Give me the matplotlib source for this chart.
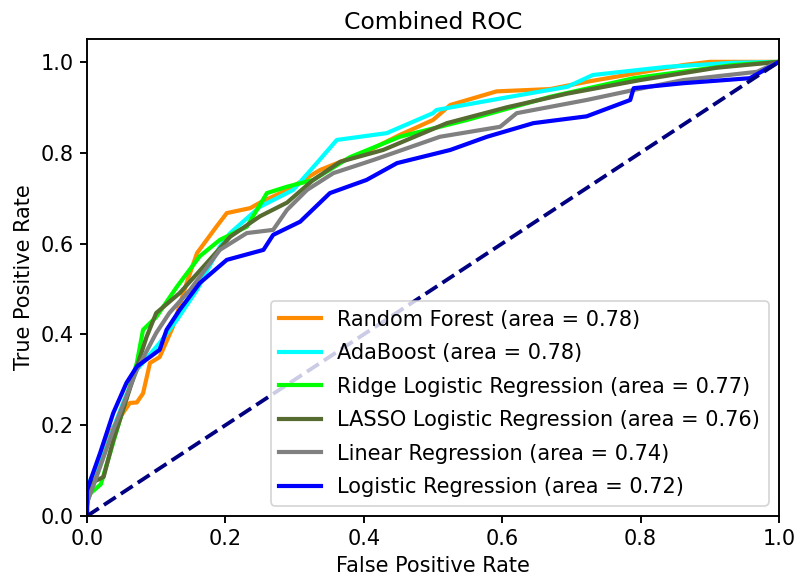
import matplotlib
matplotlib.use("Agg")
import matplotlib.pyplot as plt

# ROC points
rf_fpr = [0, 0, 0.019, 0.038, 0.062, 0.072, 0.081, 0.091, 0.105, 0.124, 0.144, 0.159, 0.173, 0.187,
          0.202, 0.236, 0.25, 0.289, 0.337, 0.409, 0.452, 0.50, 0.525, 0.592, 0.669, 0.722, 0.862, 0.90, 1.0]
rf_tpr = [0, 0.05, 0.13, 0.196, 0.249, 0.25, 0.27, 0.337, 0.35, 0.416, 0.513, 0.579, 0.608, 0.637,
          0.667, 0.678, 0.69, 0.718, 0.762, 0.806, 0.839, 0.872, 0.905, 0.935, 0.94, 0.956, 0.993, 1.0, 1.0]

ada_fpr = [0, 0, 0.005, 0.028, 0.052, 0.072, 0.105, 0.13, 0.159, 0.192, 0.207, 0.25, 0.298, 0.332,
           0.361, 0.433, 0.50, 0.505, 0.60, 0.694, 0.731, 0.838, 0.934, 1.0]
ada_tpr = [0, 0.06, 0.08, 0.152, 0.249, 0.322, 0.381, 0.432, 0.498, 0.593, 0.623, 0.681, 0.718, 0.777,
           0.828, 0.843, 0.887, 0.894, 0.92, 0.945, 0.971, 0.989, 0.998, 1.0]

ridge_fpr = [0, 0, 0.005, 0.02, 0.072, 0.081, 0.10, 0.13, 0.163, 0.192, 0.231, 0.26, 0.289, 0.327,
             0.38, 0.452, 0.549, 0.669, 0.79, 0.934, 1.0]
ridge_tpr = [0, 0.03, 0.05, 0.07, 0.337, 0.41, 0.438, 0.505, 0.572, 0.608, 0.637, 0.711, 0.725, 0.74,
             0.79, 0.835, 0.872, 0.923, 0.964, 0.993, 1.0]

lasso_fpr = [0, 0, 0.005, 0.024, 0.038, 0.072, 0.086, 0.10, 0.134, 0.173, 0.207, 0.25, 0.289, 0.327,
             0.366, 0.428, 0.52, 0.607, 0.694, 0.80, 0.91, 1.0]
lasso_tpr = [0, 0.02, 0.072, 0.086, 0.167, 0.328, 0.394, 0.447, 0.491, 0.557, 0.615, 0.66, 0.69, 0.74,
             0.78, 0.806, 0.865, 0.90, 0.93, 0.96, 0.987, 1.0]

lin_fpr = [0, 0, 0.01, 0.038, 0.072, 0.10, 0.119, 0.149, 0.192, 0.231, 0.269, 0.289, 0.318, 0.356,
           0.414, 0.51, 0.597, 0.621, 0.722, 0.79, 0.862, 0.968, 1.0]
lin_tpr = [0, 0.03, 0.07, 0.19, 0.322, 0.403, 0.447, 0.498, 0.586, 0.623, 0.63, 0.674, 0.718, 0.755,
           0.784, 0.835, 0.857, 0.887, 0.916, 0.938, 0.96, 0.978, 1.0]

log_fpr = [0, 0, 0.019, 0.038, 0.057, 0.072, 0.105, 0.115, 0.134, 0.163, 0.202, 0.255, 0.269, 0.308,
           0.351, 0.404, 0.448, 0.525, 0.578, 0.645, 0.722, 0.785, 0.79, 0.862, 0.958, 1.0]
log_tpr = [0, 0.057, 0.139, 0.227, 0.293, 0.329, 0.366, 0.41, 0.454, 0.513, 0.564, 0.586, 0.619, 0.648,
           0.711, 0.74, 0.777, 0.806, 0.835, 0.865, 0.88, 0.916, 0.942, 0.953, 0.964, 1.0]

names = ["Random Forest", "AdaBoost", "Ridge Logistic Regression",
         "LASSO Logistic Regression", "Linear Regression", "Logistic Regression"]
aucs = [0.78, 0.78, 0.77, 0.76, 0.74, 0.72]
colors = ["darkorange", "aqua", "lime", "darkolivegreen", "grey", "blue"]

curves = [(rf_fpr, rf_tpr), (ada_fpr, ada_tpr), (ridge_fpr, ridge_tpr),
          (lasso_fpr, lasso_tpr), (lin_fpr, lin_tpr), (log_fpr, log_tpr)]

plt.rcParams['font.size'] = 12
plt.rcParams['axes.linewidth'] = 1.1
plt.rcParams['xtick.major.width'] = 1.1
plt.rcParams['ytick.major.width'] = 1.1
plt.rcParams['xtick.major.size'] = 4
plt.rcParams['ytick.major.size'] = 4

fig = plt.figure(figsize=(6.4, 4.672), dpi=125)
ax = fig.add_axes([0.10875, 0.1164, 0.865, 0.8166])

for (fpr, tpr), name, auc, col in zip(curves, names, aucs, colors):
    ax.plot(fpr, tpr, color=col, lw=2.4, label="%s (area = %0.2f)" % (name, auc))

ax.plot([0, 1], [0, 1], color="navy", lw=2.2, linestyle="--")
ax.set_xlim([0.0, 1.0])
ax.set_ylim([0.0, 1.05])
ax.set_xlabel("False Positive Rate")
ax.set_ylabel("True Positive Rate")
ax.set_title("Combined ROC", fontsize=13.5)
ax.legend(loc="lower right", labelspacing=0.65)

fig.savefig("out.png", dpi=125)
